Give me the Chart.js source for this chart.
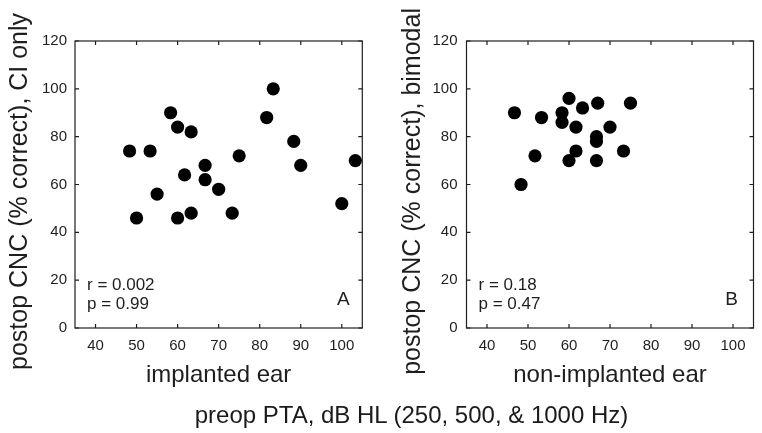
<!DOCTYPE html>
<html>
<head>
<meta charset="utf-8">
<script src="https://cdn.jsdelivr.net/npm/chart.js@4.4.0/dist/chart.umd.min.js"></script>
<style>
  html, body { margin: 0; padding: 0; background: #ffffff; width: 762px; height: 433px; overflow: hidden; }
  .wrap { position: absolute; top: 0; width: 381px; height: 433px; }
  #bottomTitle {
    position: absolute; left: 411.5px; top: 402.5px; transform: translateX(-50%);
    white-space: nowrap; font-family: "Liberation Sans", Arial, sans-serif; font-size: 24px;
    line-height: 24px; color: #1a1a1a;
  }
</style>
</head>
<body>
<div class="wrap" style="left:0px"><canvas id="chartA" width="381" height="433"></canvas></div>
<div class="wrap" style="left:381px"><canvas id="chartB" width="381" height="433"></canvas></div>
<div id="bottomTitle">preop PTA, dB HL (250, 500, &amp; 1000 Hz)</div>
<script>
// ---------- data ----------
const xTickValues = [40, 50, 60, 70, 80, 90, 100];
const yTickValues = [0, 20, 40, 60, 80, 100, 120];

// Panel A: implanted ear PTA vs CI-only CNC
const implantedPTA = [48.3, 50, 53.3, 55, 58.3, 60, 60, 61.7, 63.3, 63.3, 66.7, 66.7, 70, 73.3, 75, 81.7, 83.3, 88.3, 90, 100, 103.3];
const ciOnlyCNC    = [74,   46, 74,   56, 90,   84, 46, 64,   82,   48,   68,   62,   58, 48,   72, 88,   100,  78,   68, 52,  70];

// Panel B: non-implanted ear PTA vs bimodal CNC
const nonImplantedPTA = [46.7, 48.3, 51.7, 53.3, 58.3, 58.3, 60, 60, 61.7, 61.7, 63.3, 67, 66.7, 66.7, 66.7, 70, 73.3, 75];
const bimodalCNC      = [90,   60,   72,   88,   90,   86,   96, 70, 84,   74,   92,   94, 80,   78,   70,   84, 74,   94];

const statsA = ["r = 0.002", "p = 0.99"];
const statsB = ["r = 0.18", "p = 0.47"];
const labelA = "A";
const labelB = "B";
const yTitleA = "postop CNC (% correct), CI only";
const yTitleB = "postop CNC (% correct), bimodal";
const xTitleA = "implanted ear";
const xTitleB = "non-implanted ear";

// ---------- styling ----------
const FONT = '"Liberation Sans", Arial, Helvetica, sans-serif';
const INK = '#1e1e1e';

const framePlugin = {
  id: 'frame',
  beforeDatasetsDraw(chart) {
    const { ctx, chartArea: a, scales: { x, y } } = chart;
    ctx.save();
    ctx.strokeStyle = INK;
    ctx.lineWidth = 1.2;
    ctx.strokeRect(a.left, a.top, a.right - a.left, a.bottom - a.top);
    const tl = 4;
    ctx.beginPath();
    xTickValues.forEach(v => {
      const px = x.getPixelForValue(v);
      ctx.moveTo(px, a.bottom); ctx.lineTo(px, a.bottom - tl);
      ctx.moveTo(px, a.top); ctx.lineTo(px, a.top + tl);
    });
    yTickValues.forEach(v => {
      const py = y.getPixelForValue(v);
      ctx.moveTo(a.left, py); ctx.lineTo(a.left + tl, py);
      ctx.moveTo(a.right, py); ctx.lineTo(a.right - tl, py);
    });
    ctx.stroke();
    ctx.restore();
  },
  afterDraw(chart, args, opts) {
    const { ctx, chartArea: a } = chart;
    ctx.save();
    ctx.fillStyle = INK;
    ctx.font = '17px ' + FONT;
    ctx.textAlign = 'left';
    ctx.textBaseline = 'middle';
    ctx.fillText(opts.stats[0], a.left + 12, a.bottom - 43);
    ctx.fillText(opts.stats[1], a.left + 12, a.bottom - 24);
    ctx.font = '19px ' + FONT;
    ctx.textAlign = 'center';
    ctx.fillText(opts.letter, a.right - opts.letterDx, a.bottom - 28);
    ctx.restore();
  }
};

function makeChart(id, xs, ys, cfg) {
  const pts = xs.map((v, i) => ({ x: v, y: ys[i] }));
  return new Chart(document.getElementById(id), {
    type: 'scatter',
    data: {
      datasets: [{
        data: pts,
        backgroundColor: '#000000',
        borderWidth: 0,
        pointRadius: 6.6,
        pointHoverRadius: 6.6,
        clip: false
      }]
    },
    options: {
      responsive: false,
      devicePixelRatio: 1,
      animation: false,
      events: [],
      layout: { padding: { top: 41, right: cfg.padRight, left: 0, bottom: 0 } },
      plugins: {
        legend: { display: false },
        tooltip: { enabled: false },
        frame: { stats: cfg.stats, letter: cfg.letter, letterDx: cfg.letterDx }
      },
      scales: {
        x: {
          type: 'linear',
          min: 35, max: 105,
          afterBuildTicks: s => { s.ticks = xTickValues.map(v => ({ value: v })); },
          afterFit: s => { s.height = 105; },
          grid: { display: false, drawTicks: false },
          border: { display: false },
          ticks: { color: INK, font: { family: FONT, size: 15 }, padding: 9, maxRotation: 0 },
          title: { display: true, text: cfg.xTitle, color: INK, font: { family: FONT, size: 24 }, padding: { top: 0, bottom: 43.5 } }
        },
        y: {
          type: 'linear',
          min: 0, max: 120,
          afterBuildTicks: s => { s.ticks = yTickValues.map(v => ({ value: v })); },
          afterFit: s => { s.width = cfg.yWidth; },
          grid: { display: false, drawTicks: false },
          border: { display: false },
          ticks: { color: INK, font: { family: FONT, size: 15 }, padding: cfg.yTickPad },
          title: { display: true, text: cfg.yTitle + '\u00A0\u00A0', color: INK, font: { family: FONT, size: 25 }, padding: { top: cfg.yTitlePad, bottom: 0 } }
        }
      }
    },
    plugins: [framePlugin]
  });
}

makeChart('chartA', implantedPTA, ciOnlyCNC, {
  stats: statsA, letter: labelA, letterDx: 19, xTitle: xTitleA, yTitle: yTitleA,
  yWidth: 75, padRight: 18.7, yTickPad: 8, yTitlePad: 5
});
makeChart('chartB', nonImplantedPTA, bimodalCNC, {
  stats: statsB, letter: labelB, letterDx: 22, xTitle: xTitleB, yTitle: yTitleB,
  yWidth: 85.5, padRight: 8.5, yTickPad: 9, yTitlePad: 17
});
</script>
</body>
</html>
